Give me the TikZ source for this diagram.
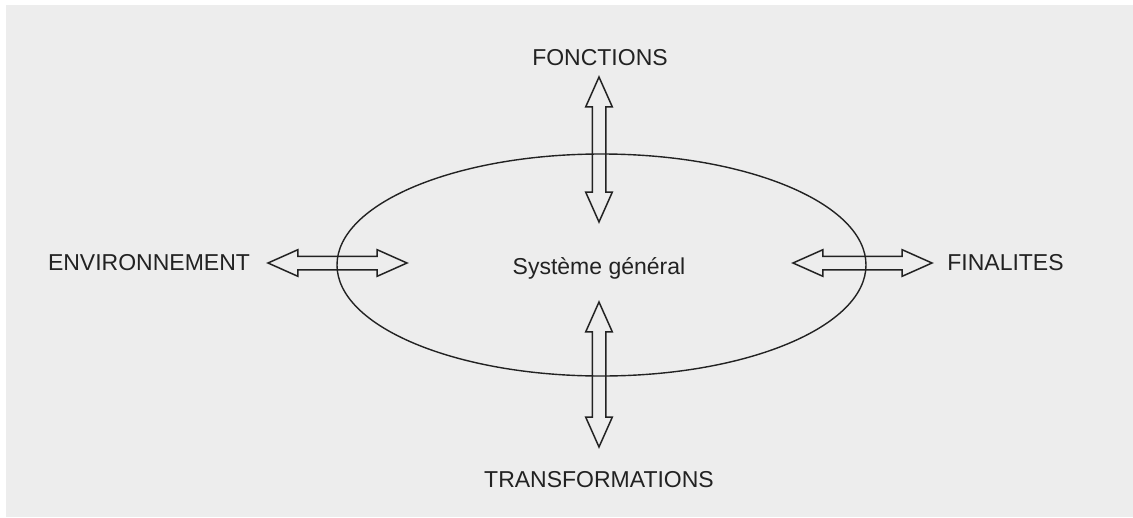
\documentclass[tikz,border=0pt]{standalone}
\usepackage{fontspec}
\setmainfont{Liberation Sans}
\usetikzlibrary{shapes.arrows,shapes.geometric}
\definecolor{bg}{HTML}{EDEDED}
\definecolor{ink}{HTML}{222222}
\begin{document}
\begin{tikzpicture}[x=1pt,y=-1pt,
  lbl/.style={font=\fontsize{23}{27}\selectfont, text=ink, inner sep=0pt, anchor=base},
  dbl/.style={double arrow, draw=ink, line width=1.5pt,
    double arrow head extend=6.5pt, double arrow tip angle=48},
  vdbl/.style={dbl, inner xsep=6pt, inner ysep=0pt, shape border rotate=90, minimum height=145pt},
  hdbl/.style={dbl, inner xsep=0pt, inner ysep=6pt, minimum height=139pt}]
\useasboundingbox (0,0) rectangle (1133,517);
\fill[white] (0,0) rectangle (1133,517);
\fill[bg] (6,5) rectangle (1133,517);
\node[draw=ink, line width=1.4pt, ellipse, minimum width=529pt, minimum height=222pt, inner sep=0pt] (sys) at (601.5,265) {};
\node[lbl] (txt) at (599,274) {Système général};
\node[vdbl] (aT) at (599,149.5) {};
\node[vdbl] (aB) at (599,374.5) {};
\node[hdbl] (aL) at (337.5,263) {};
\node[hdbl] (aR) at (862.5,263) {};
\node[lbl] (fon) at (600,65) {FONCTIONS};
\node[lbl] (tra) at (599,487) {TRANSFORMATIONS};
\node[lbl] (env) at (149,270) {ENVIRONNEMENT};
\node[lbl] (fin) at (1005.5,270) {FINALITES};
\end{tikzpicture}
\end{document}
